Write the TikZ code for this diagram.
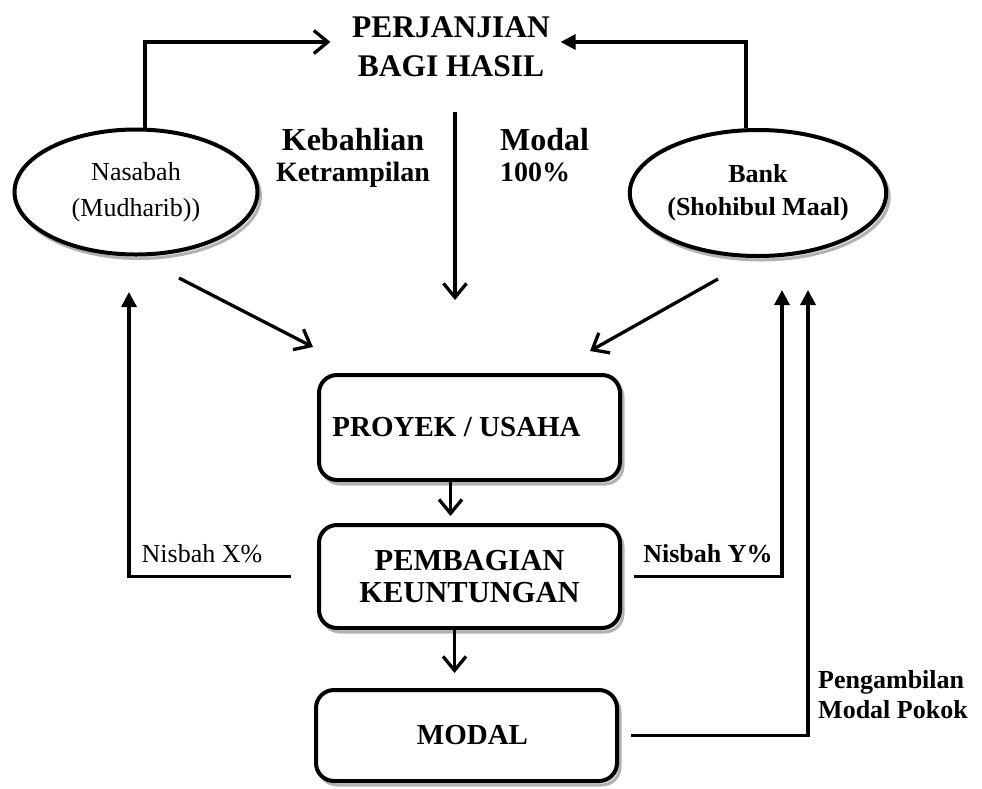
\documentclass[tikz,border=0pt]{standalone}
\usepackage{fontspec}
\setmainfont{Liberation Serif}
\usetikzlibrary{arrows.meta,shapes.geometric,shadows}
\begin{document}
\begin{tikzpicture}[x=1pt,y=-1pt]

    \tikzset{
      bayangan/.style={
        drop shadow={shadow xshift=3pt,shadow yshift=-4pt,draw=gray!60,
          line width=3pt,fill=gray!20,opacity=1},
      },
      pelaku/.style={
        draw,
        ellipse,
        line width=4pt,
        fill=white,
        inner sep=0pt,
        align=center,
        bayangan,
      },
      kotak/.style={
        draw,
        rounded corners=18pt,
        line width=4pt,
        fill=white,
        minimum width=301pt,
        inner sep=0pt,
        align=center,
        font=\fontsize{29}{32}\selectfont\bfseries,
        bayangan,
      },
      tebal/.style={font=\fontsize{28}{31}\selectfont\bfseries, inner sep=0pt},
      ket/.style={font=\fontsize{26}{29}\selectfont, inner sep=0pt},
      panah/.style={-{Straight Barb[length=14pt,width=23pt]}, line width=3.3pt},
      panahisi/.style={-{Triangle[length=15pt,width=15pt]}, line width=3.3pt},
    }
    \useasboundingbox (0,0) rectangle (982,788);

    % judul
    \node[tebal, font=\fontsize{31.5}{39}\selectfont\bfseries, align=center] (kontrak) at (451,47) {PERJANJIAN\\BAGI HASIL};
    \node[tebal, align=center] (keahlian) at (353,158) {{\fontsize{32}{31}\selectfont Kebahlian}\\Ketrampilan};
    \node[tebal, align=left, anchor=west] (dana) at (500,155) {{\fontsize{32}{31}\selectfont Modal}\\100\%};

    % pihak
    \node[pelaku, minimum width=243pt, minimum height=125pt, font=\fontsize{26}{36}\selectfont] (nasabah) at (136,192) {Nasabah\\(Mudharib))};
    \node[pelaku, minimum width=246pt, minimum height=126pt, font=\fontsize{26}{33}\selectfont\bfseries] (bank) at (758,193) {Bank\\(Shohibul Maal)};

    % alur usaha
    \node[kotak, minimum height=105pt] (proyek) at (469.5,427.5) {PROYEK / USAHA\hspace*{26pt}};
    \node[kotak, minimum height=103pt, font=\fontsize{30.5}{32}\selectfont\bfseries] (pembagian) at (469.5,576.5) {PEMBAGIAN\\KEUNTUNGAN};
    \node[kotak, minimum height=91pt] (modal) at (466.5,735.5) {\hspace*{12pt}MODAL};

    \node[ket] (nisbahx) at (202,554) {Nisbah X\%};
    \node[ket, font=\fontsize{26}{29}\selectfont\bfseries] (nisbahy) at (708,554) {Nisbah Y\%};
    \node[ket, font=\fontsize{26}{30}\selectfont\bfseries, align=left, anchor=west] (pokok) at (818,695) {Pengambilan\\Modal Pokok};

    \coordinate (tengah) at (455,300);
    \coordinate (nkeluar) at (179,278);
    \coordinate (nmasuk) at (313,347);
    \coordinate (bkeluar) at (718,279);
    \coordinate (bmasuk) at (590,351);
    \coordinate (tipx) at (129,292);
    \coordinate (tipy) at (782,290);
    \coordinate (tipz) at (808,290);

    \draw[panah, shorten >=21.5pt] ([xshift=9pt]nasabah.north) |- ([yshift=5pt]kontrak.west);
    \draw[panahisi, shorten >=10.5pt] ([xshift=-12pt]bank.north) |- ([yshift=5pt]kontrak.east);
    \draw[panah] ([xshift=4pt,yshift=-35pt]kontrak.south) -- (tengah);
    \draw[panah] (nkeluar) -- (nmasuk);
    \draw[panah] (bkeluar) -- (bmasuk);

    \draw[panah, shorten >=7pt] ([xshift=-19pt]proyek.south) -- ([xshift=-19pt]pembagian.north);
    \draw[panah, shorten >=15pt] ([xshift=-15pt]pembagian.south) -- ([xshift=-15pt]pembagian.south |- modal.north);

    \draw[panahisi] ([xshift=-26pt]pembagian.west) -| (tipx);
    \draw[panahisi] ([xshift=12pt]pembagian.east) -| (tipy);
    \draw[panahisi] ([xshift=12pt]modal.east) -| (tipz);

\end{tikzpicture}
\end{document}
